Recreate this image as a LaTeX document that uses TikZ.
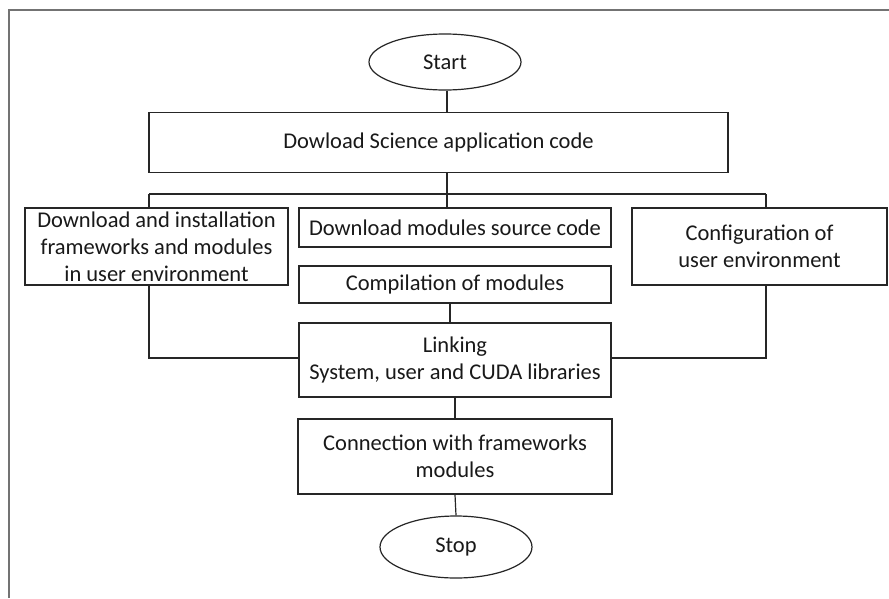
\documentclass[tikz,border=0pt]{standalone}
\usepackage{fontspec}
\setmainfont{Carlito}
\usetikzlibrary{shapes.geometric}
\tikzset{
  box/.style={draw=black!85, line width=1.2pt, rectangle, inner sep=0pt, align=center,
    font=\fontsize{22.5}{27}\selectfont, text=black!90},
  oval/.style={draw=black!85, line width=1.2pt, ellipse, inner sep=0pt, align=center,
    font=\fontsize{22.5}{27}\selectfont, text=black!90},
  conn/.style={draw=black!85, line width=1.2pt},
  frame/.style={draw=black!55, line width=1.6pt}
}
\begin{document}
\begin{tikzpicture}[x=1pt,y=-1pt]
\useasboundingbox (0,0) rectangle (889,598);
\fill[white] (0,0) rectangle (889,598);
\coordinate (fa) at (9,598);
\coordinate (fb) at (9,10);
\coordinate (fc) at (889,10);
\draw[frame] (fa) -- (fb) -- (fc);

\node[oval, minimum width=152pt, minimum height=56pt] (start) at (445,62) {Start};
\node[box, minimum width=579pt, minimum height=60pt] (dl) at (438.5,142.5) {Dowload Science application code};
\node[box, minimum width=263pt, minimum height=77pt] (left) at (156.5,246.5) {Download and installation\\frameworks and modules\\in user environment};
\node[box, minimum width=312pt, minimum height=39pt] (src) at (455,227.5) {Download modules source code};
\node[box, minimum width=255pt, minimum height=77pt] (right) at (759.5,246.5) {Configuration of\\user environment};
\node[box, minimum width=312pt, minimum height=37pt] (comp) at (455,284.5) {Compilation of modules};
\node[box, minimum width=312pt, minimum height=74pt] (link) at (455,360) {Linking\\System, user and CUDA libraries};
\node[box, minimum width=314pt, minimum height=75pt] (cw) at (455,456.5) {Connection with frameworks\\modules};
\node[oval, minimum width=152pt, minimum height=62pt] (stop) at (456,547) {Stop};

\coordinate (bl) at (149,194);
\coordinate (bm) at (447,194);
\coordinate (br) at (766,194);
\coordinate (jl) at (149,358);
\coordinate (jr) at (766,358);

\draw[conn] (start.south -| bm) -- (dl.north -| bm);
\draw[conn] (dl.south -| bm) -- (bm);
\draw[conn] (bl) -- (br);
\draw[conn] (bl) -- (left.north -| bl);
\draw[conn] (bm) -- (src.north -| bm);
\draw[conn] (br) -- (right.north -| br);
\draw[conn] (comp.south -| 450,0) -- (link.north -| 450,0);
\draw[conn] (left.south -| jl) -- (jl) -- (link.west |- jl);
\draw[conn] (right.south -| jr) -- (jr) -- (link.east |- jr);
\draw[conn] (link.south) -- (cw.north);
\draw[conn] (cw.south) -- (stop.north);
\end{tikzpicture}
\end{document}
